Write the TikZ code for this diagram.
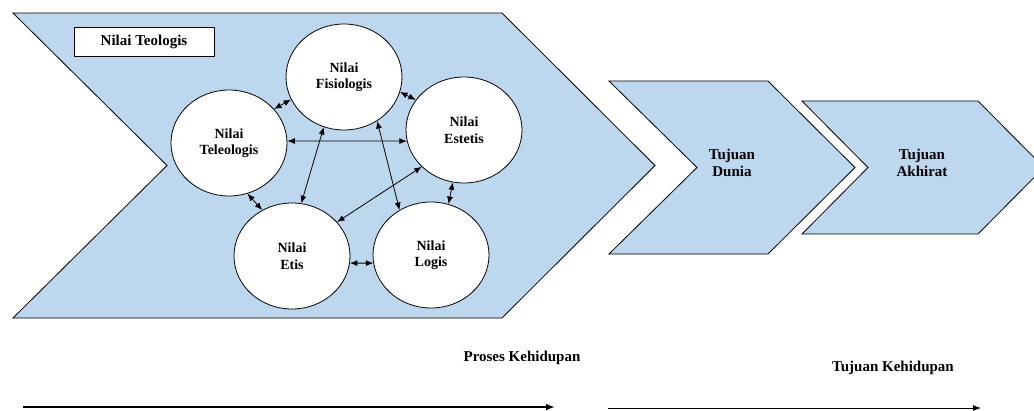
\documentclass[tikz,border=0pt]{standalone}
\usepackage{fontspec}
\setmainfont{Liberation Serif}
\usetikzlibrary{shapes.geometric,arrows.meta}
\definecolor{panahbiru}{RGB}{189,215,238}

\begin{document}
\begin{tikzpicture}[x=1pt,y=1pt,yscale=-1,xscale=1,
    panah/.style={fill=panahbiru,draw=black,line width=0.8pt,line join=miter},
    nilai/.style={ellipse,draw,fill=white,line width=0.8pt,minimum width=116pt,minimum height=106pt,inner sep=0pt,align=center,font=\fontsize{14}{16.5}\selectfont\bfseries},
    tulisan/.style={inner sep=0.75pt,align=center,font=\fontsize{15}{17.5}\selectfont\bfseries},
    hubung/.style={{Latex[length=7.5pt,width=6pt]}-{Latex[length=7.5pt,width=6pt]},line width=0.8pt}]
                \useasboundingbox (0,0) rectangle (1034,410);
                % Proses chevron
                \draw [panah] (13,13) -- (502,13) -- (655,165.5) -- (502,318) -- (13,318) -- (167,165.5) -- cycle ;
                % Tujuan chevrons
                \draw [panah] (609,81) -- (768,81) -- (855,167.5) -- (768,254) -- (609,254) -- (697,167.5) -- cycle ;
                \draw [panah] (802,101) -- (978,101) -- (1044,167.5) -- (978,234) -- (802,234) -- (868,167.5) -- cycle ;

                % Text Node
                \node [tulisan,draw,fill=white,line width=0.8pt,minimum width=140pt,minimum height=29pt] (teologis) at (144,41.5) {Nilai Teologis};
                % Circles
                \node [nilai] (fis) at (344,77) {Nilai\\Fisiologis};
                \node [nilai] (tel) at (229,143) {Nilai\\Teleologis};
                \node [nilai] (est) at (464,130) {Nilai\\Estetis};
                \node [nilai] (etis) at (292,256) {Nilai\\Etis};
                \node [nilai] (logis) at (431,255) {Nilai\\Logis};

                \draw [hubung] (tel.37) -- (fis.203);
                \draw [hubung] (fis.345) -- (est.148);
                \draw [hubung] (tel.2) -- (est.191);
                \draw [hubung] (tel.290) -- (etis.123);
                \draw [hubung] (est.258) -- (logis.71);
                \draw [hubung] (etis.353) -- (logis.188);
                \draw [hubung] (fis.248) -- (etis.80);
                \draw [hubung] (fis.307) -- (logis.125);
                \draw [hubung] (est.221) -- (etis.37);

                % Text Node
                \node [tulisan] (dunia) at (732,163) {Tujuan\\Dunia};
                % Text Node
                \node [tulisan] (akhirat) at (922,163) {Tujuan\\Akhirat};
                % Text Node
                \node [tulisan,anchor=base] (proses) at (522,361) {Proses Kehidupan};
                % Text Node
                \node [tulisan,anchor=base] (tujuan) at (893,371) {Tujuan Kehidupan};

                \coordinate (proses awal) at (23,407);
                \coordinate (proses akhir) at (555,407);
                \draw [line width=2pt,-{Latex[length=9pt,width=7pt]}] (proses awal) -- (proses akhir);
                \coordinate (tujuan awal) at (608,408);
                \coordinate (tujuan akhir) at (981,408);
                \draw [line width=1pt,-{Latex[length=8pt,width=6pt]}] (tujuan awal) -- (tujuan akhir);
            \end{tikzpicture}
\end{document}
